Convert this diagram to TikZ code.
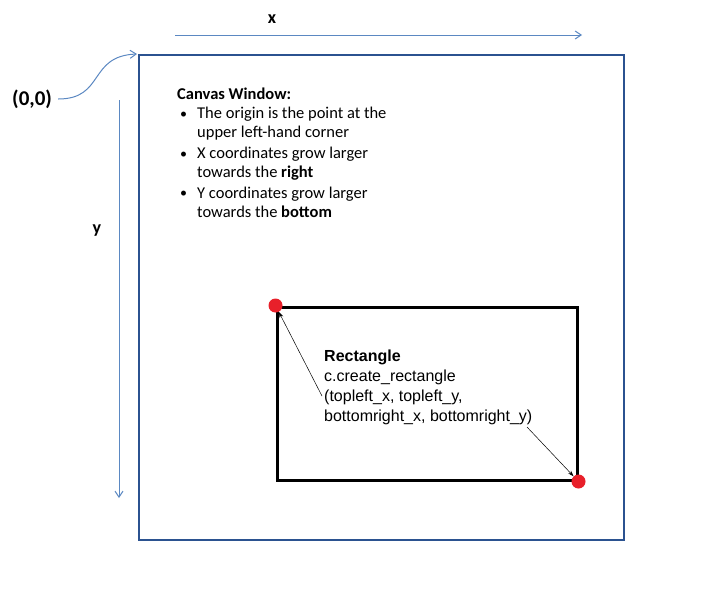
\documentclass[tikz,border=0pt]{standalone}
\usepackage{fontspec}
\setmainfont{Carlito}
\newfontfamily\arialf{Liberation Sans}
\usetikzlibrary{arrows.meta}
\definecolor{canvasblue}{HTML}{2B5290}
\definecolor{axisblue}{HTML}{5B88C2}
\definecolor{dotred}{HTML}{E8202A}
\tikzset{
  axis/.style={draw=axisblue, line width=1pt, -{Straight Barb[length=6pt,width=8pt]}},
  ptr/.style={draw=black, line width=0.5pt, -{Stealth[length=6pt,width=4pt]}},
  dot/.style={circle, fill=dotred, minimum size=14pt, inner sep=0pt},
  lbl/.style={font=\fontsize{21}{24}\selectfont\bfseries, inner sep=0pt}
}
\newcommand{\bul}{\makebox[20pt][l]{\hspace{3pt}\raisebox{0.5pt}{\fontsize{14}{14}\selectfont\textbullet}}}
\begin{document}
\begin{tikzpicture}[x=1pt,y=-1pt]
\useasboundingbox (0,0) rectangle (712,600);
\node[draw=canvasblue, line width=2pt, minimum width=485pt, minimum height=485pt, inner sep=0pt] (canvas) at (381.5,297.5) {};
\node[draw=black, line width=3pt, minimum width=300pt, minimum height=173pt, inner sep=0pt] (rect) at (427,393.5) {};
\node[dot] (tl) at (rect.north west) {};
\node[dot] (br) at (rect.south east) {};
\coordinate (xs) at (175,35);
\coordinate (xe) at (582,35);
\draw[axis] (xs) -- (xe);
\node[lbl, font=\fontsize{18}{20}\selectfont\bfseries] (xl) at (272,19) {x};
\coordinate (ys) at (119,100);
\coordinate (ye) at (119,498);
\draw[axis] (ys) -- (ye);
\node[lbl, font=\fontsize{18}{20}\selectfont\bfseries] (yl) at (97,231) {y};
\node[lbl, anchor=west] (orig) at (12,99) {(0,0)};
\draw[axis] ([xshift=6pt]orig.east) .. controls (105,99) and (88,56) .. ([xshift=-1pt]canvas.north west);
\node[anchor=north west, align=left, inner sep=0pt, font=\fontsize{16.5}{19}\selectfont] (info) at (177,88) {%
\textbf{Canvas Window:}\\
\bul The origin is the point at the\\
\hspace{20pt}upper left-hand corner\\[2pt]
\bul X coordinates grow larger\\
\hspace{20pt}towards the \textbf{right}\\[1.5pt]
\bul Y coordinates grow larger\\
\hspace{20pt}towards the \textbf{bottom}};
\node[anchor=north west, align=left, inner sep=0pt, font=\arialf\fontsize{16}{20}\selectfont] (rtext) at (324,350) {%
\textbf{Rectangle}\\
c.create\_rectangle\\
(topleft\_x, topleft\_y,\\
bottomright\_x, bottomright\_y)};
\draw[ptr] (322,396) -- (tl);
\draw[ptr] (527,427) -- (br);
\end{tikzpicture}
\end{document}
